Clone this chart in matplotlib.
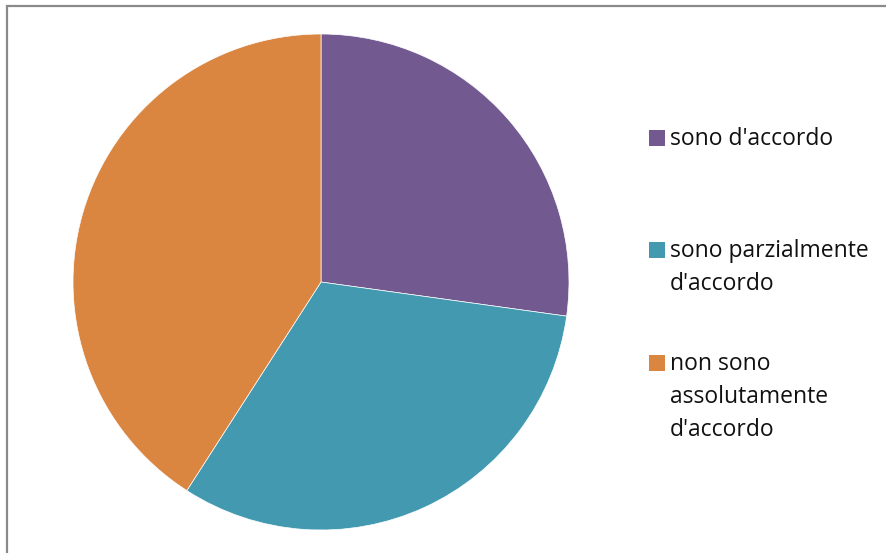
import matplotlib.pyplot as plt
from matplotlib.patches import Rectangle

# risposte (percentuali)
labels = ["sono d'accordo", "sono parzialmente\nd'accordo", "non sono\nassolutamente\nd'accordo"]
values = [27.2, 31.9, 40.9]
colors = ['#725990', '#4299b0', '#da8540']

plt.rcParams['font.family'] = ['Open Sans', 'DejaVu Sans']

fig = plt.figure(figsize=(8.86, 5.53), dpi=100)
W, H = 886, 553

# cornice grigia del grafico
fig.patches.append(Rectangle((7 / W, -0.05), 1.1, 1 - 6 / H + 0.05,
                             transform=fig.transFigure, fill=False,
                             edgecolor='#8a8a8a', linewidth=1.6))

ax = fig.add_axes([73 / W, 23 / H, 496 / W, 496 / H])
ax.pie(values, colors=colors, startangle=90, counterclock=False,
       wedgeprops=dict(edgecolor='white', linewidth=0.5))
ax.set_xlim(-1, 1)
ax.set_ylim(-1, 1)
ax.set_aspect('equal')
ax.axis('off')

# legenda
ys = [138, 250, 363]
for lab, col, y in zip(labels, colors, ys):
    fig.patches.append(Rectangle((649 / W, 1 - (y + 8) / H), 16 / W, 16 / H,
                                 transform=fig.transFigure, facecolor=col,
                                 edgecolor='none'))
    fig.text(670 / W, 1 - (y - 11) / H, lab, fontsize=16.5, color='#111111',
             va='top', ha='left', linespacing=1.5)

fig.savefig('out.png', dpi=100)
